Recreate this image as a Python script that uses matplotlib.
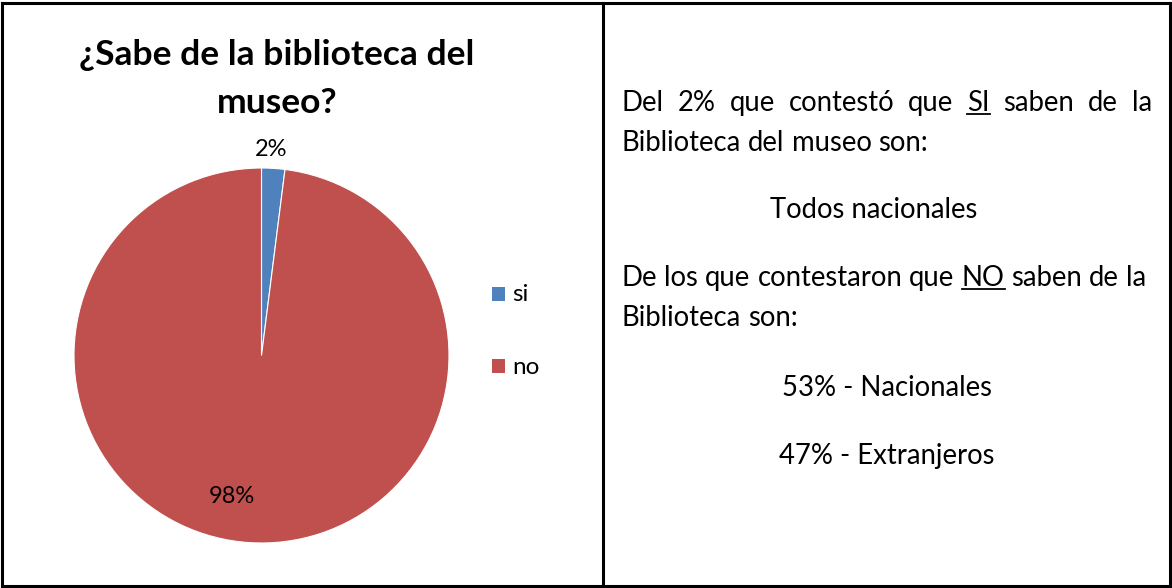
import matplotlib

matplotlib.use("Agg")
import matplotlib.pyplot as plt
from matplotlib.lines import Line2D

W, H = 1172, 588
BLUE = "#4F81BD"
RED = "#C0504D"
TEXT = "#000000"
FONT = "Lato"

categories = ["si", "no"]
shares = [2, 98]
colors = [BLUE, RED]

title = "¿Sabe de la biblioteca del\nmuseo?"

plt.rcParams["font.family"] = [FONT, "DejaVu Sans"]


def fx(x):
    return x / W


def fy(y):
    return 1 - y / H


fig = plt.figure(figsize=(W / 100, H / 100), dpi=100)
fig.patch.set_facecolor("white")
renderer = fig.canvas.get_renderer()

# table frame: outer box plus the column divider
frame_kw = dict(color="black", linewidth=2.2, transform=fig.transFigure)
for xs, ys in [
    ((2, 1170), (3, 3)),
    ((2, 1170), (586, 586)),
    ((2, 2), (3, 586)),
    ((1170, 1170), (3, 586)),
    ((603, 603), (3, 586)),
]:
    fig.add_artist(Line2D([fx(v) for v in xs], [fy(v) for v in ys], **frame_kw))

# pie in the left cell
cx, cy, r = 261.5, 355.5, 187.5
ax = fig.add_axes([fx(cx - r), fy(cy + r), 2 * r / W, 2 * r / H])
wedges, _ = ax.pie(shares, colors=colors, startangle=90, counterclock=False,
                   radius=1, wedgeprops=dict(linewidth=0.8, edgecolor="white"))
ax.set_xlim(-1, 1)
ax.set_ylim(-1, 1)
ax.set_aspect("equal")
ax.axis("off")

ax.text(0.05, 1.10, f"{shares[0]}%", ha="center", va="center", fontsize=17, color=TEXT)
ax.text(-0.16, -0.75, f"{shares[1]}%", ha="center", va="center", fontsize=17, color=TEXT)

fig.text(fx(277), fy(79), title, ha="center", va="center", fontsize=25.5,
         fontweight="bold", color=TEXT, linespacing=1.6)

# legend
for i, (cat, col) in enumerate(zip(categories, colors)):
    ly = 294 + i * 72
    fig.patches.append(plt.Rectangle((fx(492), fy(ly + 7)), 13 / W, 14 / H,
                                     facecolor=col, transform=fig.transFigure))
    fig.text(fx(512), fy(ly + 1), cat, ha="left", va="center", fontsize=17.5, color=TEXT)

# right cell text
BODY = 19.8


def word_width(word):
    t = fig.text(0, 0, word, fontsize=BODY)
    w = t.get_window_extent(renderer).width
    t.remove()
    return w


def draw_line(words, x0, y, x1=None, underline=()):
    widths = [word_width(w) for w in words]
    space = word_width("a b") - word_width("ab")
    if x1 is not None and len(words) > 1:
        space = (x1 - x0 - sum(widths)) / (len(words) - 1)
    x = x0
    for w, wd in zip(words, widths):
        fig.text(fx(x), fy(y), w, ha="left", va="baseline", fontsize=BODY, color=TEXT)
        if w in underline:
            fig.add_artist(Line2D([fx(x), fx(x + wd)], [fy(y + 3), fy(y + 3)],
                                  color=TEXT, linewidth=1.3, transform=fig.transFigure))
        x += wd + space


draw_line("Del 2% que contestó que SI saben de la".split(), 622, 111, x1=1152,
          underline=("SI",))
draw_line("Biblioteca del museo son:".split(), 622, 151)
fig.text(fx(874), fy(218), "Todos nacionales", ha="center", va="baseline",
         fontsize=BODY, color=TEXT)
draw_line("De los que contestaron que NO saben de la".split(), 622, 286,
          underline=("NO",))
draw_line("Biblioteca son:".split(), 622, 326)
fig.text(fx(887), fy(396), "53% - Nacionales", ha="center", va="baseline",
         fontsize=BODY, color=TEXT)
fig.text(fx(887), fy(464), "47% - Extranjeros", ha="center", va="baseline",
         fontsize=BODY, color=TEXT)

fig.savefig("out.png", dpi=100, facecolor="white")
